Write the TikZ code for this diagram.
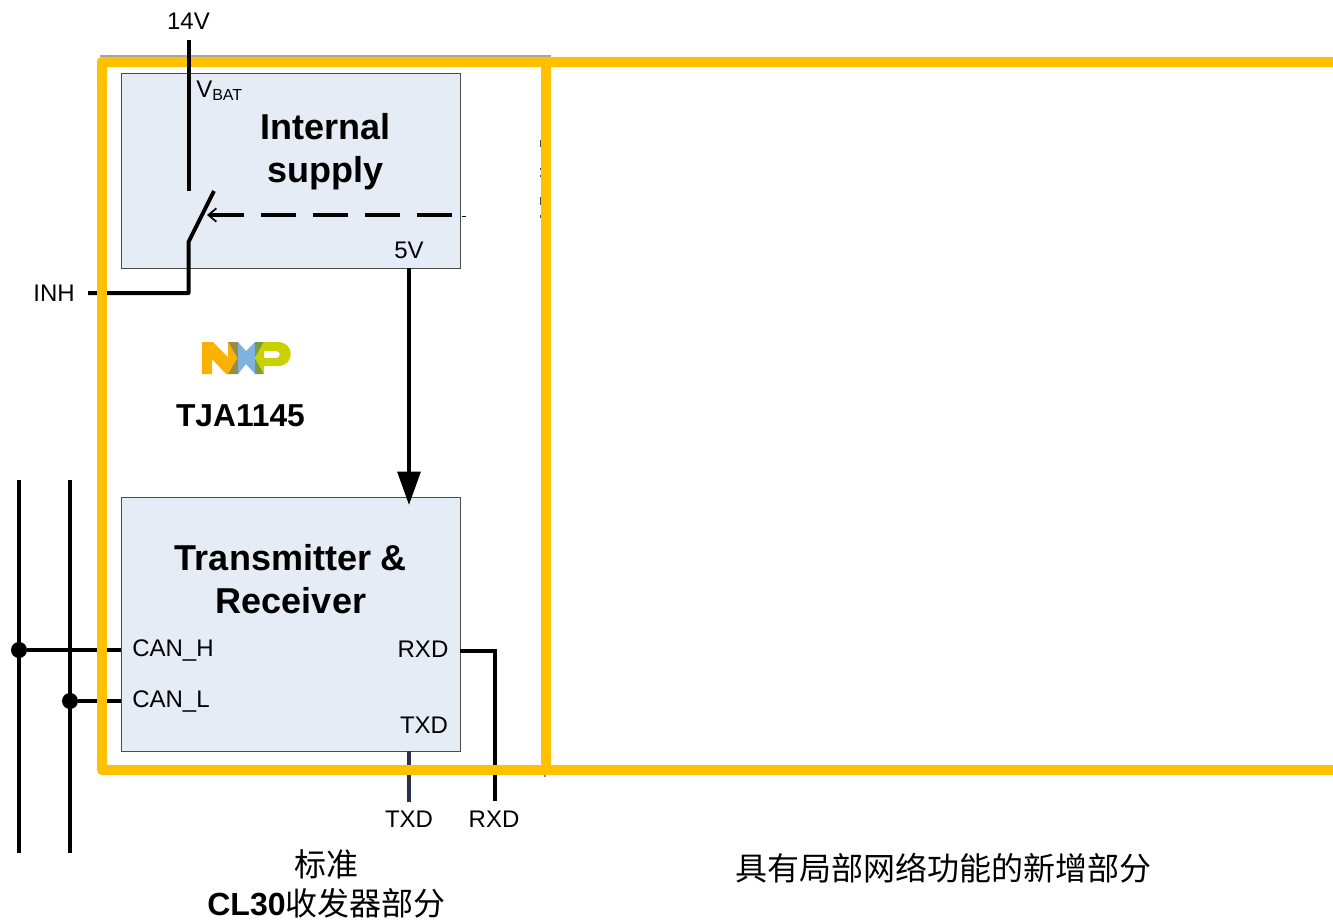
\documentclass[tikz,border=0pt]{standalone}
\usepackage{fontspec}
\setmainfont{Liberation Sans}
\newfontfamily\cjk{Noto Sans CJK SC}
\usetikzlibrary{arrows.meta}
\definecolor{boxfill}{RGB}{230,236,246}
\definecolor{bandyellow}{RGB}{255,192,0}
\definecolor{nxporange}{RGB}{251,177,0}
\definecolor{nxpbrown}{RGB}{155,139,69}
\definecolor{nxpblue}{RGB}{127,178,222}
\definecolor{nxpolive}{RGB}{124,154,63}
\definecolor{nxplime}{RGB}{201,210,0}
\definecolor{txdwire}{RGB}{40,50,75}
\tikzset{
	every block/.style={draw=black!70, fill=boxfill, line width=0.7pt, anchor=north west, inner sep=0pt},
	wire/.style={black, line width=3pt},
	band/.style={bandyellow, line width=7.5pt, line join=round},
	pin/.style={font=\fontsize{18}{20}\selectfont, inner sep=0pt},
	title/.style={font=\fontsize{27}{32.5}\selectfont\bfseries, align=center, inner sep=0pt},
	note/.style={font=\fontsize{24}{29}\selectfont, align=center, inner sep=0pt},
	tap/.style={circle, fill=black, inner sep=0pt, minimum size=12pt}
}
\begin{document}
\begin{tikzpicture}[x=0.75pt, y=-0.75pt, >=Stealth]
	\useasboundingbox (0,0) rectangle (1333,921);
	
	% blocks
	\node [every block, minimum width=254.25pt, minimum height=146.25pt] (supply) at (120.5,73) {};
	\node [every block, minimum width=254.25pt, minimum height=190.5pt] (trx) at (120.5,497) {};
	
	\node [title] (supply-title) at (325.5,151.5) {Internal \\ supply};
	\node [title] (trx-title) at (291,579) {Transmitter \& \\ Receiver};
	
	% pin labels
	\foreach \n/\l/\x/\y in {vcc/14V/188.5/21, inh/INH/54/293, five/5V/409/250, canh/CAN\_H/173/650.5, canl/CAN\_L/171/701.5, rxdin/RXD/423/649, txdin/TXD/424/725, txdout/TXD/409/819, rxdout/RXD/494/819}
	  \node [pin] (label-\n) at (\x,\y) {\l};
	\node [pin, anchor=west] (label-vbat) at (196,91) {V\raisebox{-0.25ex}{\fontsize{12}{14}\selectfont BAT}};
	
	% free ends
	\coordinate (vcc-top) at (188.5,40);
	\coordinate (sw-top) at (188.5,191);
	\coordinate (sw-bot) at (188.5,242);
	\coordinate (sw-tip) at (214,191);
	\coordinate (sw-mid) at (207,215);
	\coordinate (dash-start) at (452,215);
	\coordinate (inh-end) at (88,293);
	\coordinate (inh-corner) at (188.5,293);
	\coordinate (five-top) at (409,268);
	\coordinate (five-bot) at (409,505);
	\coordinate (h-top) at (19,480);
	\coordinate (h-bot) at (19,853);
	\coordinate (l-top) at (70,480);
	\coordinate (l-bot) at (70,853);
	\coordinate (h-end) at (121,650);
	\coordinate (l-end) at (121,701);
	\coordinate (rxd-start) at (460,651);
	\coordinate (rxd-corner) at (495,651);
	\coordinate (rxd-end) at (495,801);
	\coordinate (txd-start) at (409,751);
	\coordinate (txd-end) at (409,802);
	
	% wires
	\draw [wire, line join=round] (inh-end) -- (inh-corner) -- (sw-bot) -- (sw-tip);
	\draw [wire, line width=2.5pt, dash pattern=on 26.5pt off 12.5pt, ->, >={Straight Barb[length=6pt,width=10pt,line width=1.3pt]}] (dash-start) -- (sw-mid);
	\draw [black, line width=0.8pt] (462,216.5) -- (466,216.5);
	\draw [wire, -{Triangle[length=25pt,width=17pt]}] (five-top) -- (five-bot);
	\draw [wire] (h-top) -- (h-bot);
	\draw [wire] (l-top) -- (l-bot);
	\node [tap] (h-tap) at (19,650) {};
	\node [tap] (l-tap) at (70,701) {};
	\draw [wire] (h-tap) -- (h-end);
	\draw [wire] (l-tap) -- (l-end);
	\draw [wire] (rxd-start) -- (rxd-corner) -- (rxd-end);
	\draw [txdwire, line width=2.5pt] (txd-start) -- (txd-end);
	
	% highlight bands
	\coordinate (band-a) at (1333,61.5);
	\coordinate (band-b) at (102,61.5);
	\coordinate (band-c) at (102,770);
	\coordinate (band-d) at (1333,770);
	\coordinate (band-e) at (546,61.5);
	\coordinate (band-f) at (546,770);
	\draw [black!35, line width=0.8pt] (100,56) -- (551,56);
	\draw [black!45, line width=0.8pt] (545,770) -- (545,777);
	\foreach \a/\b in {140/147, 168/170, 175/177, 197/205, 215/218}
	  \draw [black!70, line width=0.8pt] (540.5,\a) -- (540.5,\b);
	\draw [band] (band-a) -- (band-b) -- (band-c) -- (band-d);
	\draw [band] (band-e) -- (band-f);
	
	\draw [wire] (vcc-top) -- (sw-top);
	
	% logo
	\fill [nxporange] (202,342) -- (213,342) -- (228,357) -- (228,342) -- (237.5,358) -- (228,374) -- (226,374) -- (212,359) -- (212,374) -- (202,374) -- cycle;
	\fill [nxpbrown] (228,342) -- (238,342) -- (238,374) -- (228,374) -- (237.5,358) -- cycle;
	\fill [nxpblue] (238,342) -- (246,351) -- (255,342) -- (255,374) -- (246,364) -- (238,374) -- cycle;
	\fill [nxpolive] (255,342) -- (264,342) -- (255,358) -- (264,374) -- (255,374) -- cycle;
	\fill [nxplime, even odd rule] (264,342) -- (278,342) .. controls (295,342) and (295,366) .. (278,366) -- (264,366) -- (264,374) -- (255,358) -- cycle
	  (264,351) -- (276,351) .. controls (281,351) and (281,358) .. (276,358) -- (264,358) -- cycle;
	\node [font=\fontsize{23.8}{28}\selectfont\bfseries, inner sep=0pt] (part) at (240.5,416) {TJA1145};
	
	% captions
	\node [note] (cap-left) at (326.5,884) {{\cjk 标准} \\ \textbf{CL30}{\cjk 收发器部分}};
	\node [note] (cap-right) at (943,868) {\cjk 具有局部网络功能的新增部分};
	
\end{tikzpicture}
\end{document}
